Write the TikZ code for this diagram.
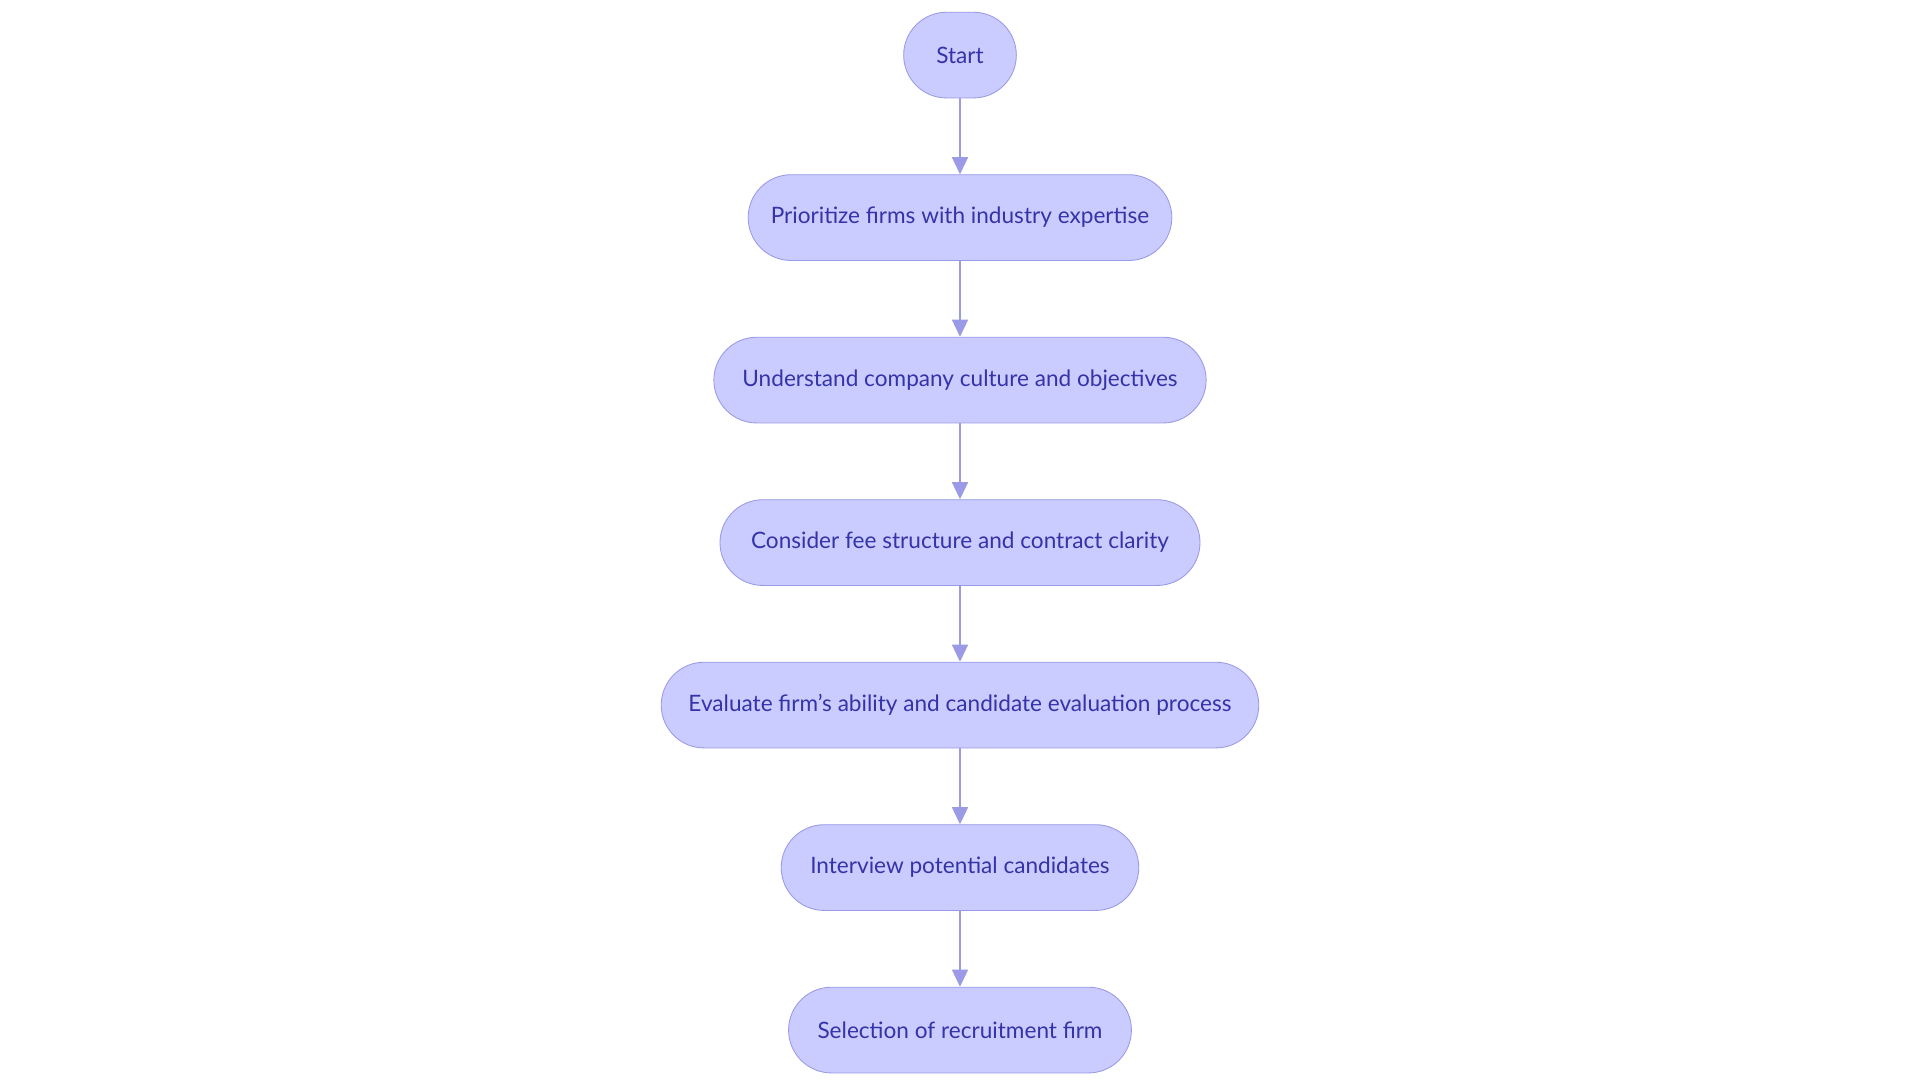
\documentclass[tikz,border=0pt]{standalone}
\usepackage{fontspec}
\setmainfont{Lato}
\usetikzlibrary{arrows.meta, positioning}
\definecolor{stepfill}{HTML}{CACBFF}
\definecolor{stepline}{HTML}{9A9AE6}
\definecolor{steptext}{HTML}{3434A8}
\tikzset{
  stage/.style={rectangle, draw=stepline, fill=stepfill, rounded corners=0.7cm,
    minimum height=1.4cm, text=steptext, font=\fontsize{10.5}{12}\selectfont, inner sep=0pt},
  flow/.style={-{Triangle[length=0.28cm, width=0.26cm]}, draw=stepline, line width=0.9pt}
}
\begin{document}
\begin{tikzpicture}[node distance=1.24cm]
  \useasboundingbox (-15.68,0.9) rectangle (15.68,-16.74);
  \node[stage, minimum width=1.84cm] (start) at (0,0) {Start};
  \node[stage, minimum width=6.92cm, below=of start] (prioritize) {Prioritize firms with industry expertise};
  \node[stage, minimum width=8.04cm, below=of prioritize] (culture) {Understand company culture and objectives};
  \node[stage, minimum width=7.84cm, below=of culture] (fee) {Consider fee structure and contract clarity};
  \node[stage, minimum width=9.76cm, below=of fee] (evaluate) {Evaluate firm's ability and candidate evaluation process};
  \node[stage, minimum width=5.84cm, below=of evaluate] (interview) {Interview potential candidates};
  \node[stage, minimum width=5.6cm, below=of interview] (selection) {Selection of recruitment firm};

  \draw[flow] (start) -- (prioritize);
  \draw[flow] (prioritize) -- (culture);
  \draw[flow] (culture) -- (fee);
  \draw[flow] (fee) -- (evaluate);
  \draw[flow] (evaluate) -- (interview);
  \draw[flow] (interview) -- (selection);
\end{tikzpicture}
\end{document}
